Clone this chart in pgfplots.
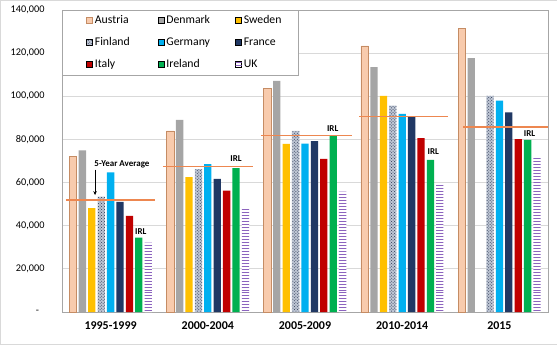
\documentclass[border=0pt]{standalone}
\usepackage{pgfplots}
\pgfplotsset{compat=1.18}
\usepackage{fontspec}
\setmainfont{Carlito}
\usetikzlibrary{patterns,arrows.meta,calc}

\definecolor{austriaF}{RGB}{248,203,173}
\definecolor{austriaD}{RGB}{197,140,100}
\definecolor{denmark}{RGB}{165,165,165}
\definecolor{sweden}{RGB}{255,192,0}
\definecolor{finlandP}{RGB}{40,52,80}
\definecolor{finlandF}{RGB}{190,198,212}
\definecolor{germany}{RGB}{0,176,240}
\definecolor{france}{RGB}{32,56,100}
\definecolor{italy}{RGB}{192,0,0}
\definecolor{ireland}{RGB}{0,176,80}
\definecolor{uk}{RGB}{140,100,190}
\definecolor{avg}{RGB}{237,135,80}
\definecolor{gridc}{RGB}{217,217,217}
\definecolor{axc}{RGB}{166,166,166}

\begin{document}
\begin{tikzpicture}
\begin{axis}[
  name=ax,
  scale only axis, width=486bp, height=302bp,
  xmin=-0.5, xmax=4.5, ymin=0, ymax=140000,
  scaled y ticks=false,
  xtick={0,1,2,3,4},
  xticklabels={1995-1999,2000-2004,2005-2009,2010-2014,2015},
  xticklabel style={font=\bfseries\fontsize{12}{14}\selectfont, yshift=-6bp},
  ytick={0,20000,40000,60000,80000,100000,120000,140000},
  yticklabels={{-\hspace*{5.5bp}},{20,000},{40,000},{60,000},{80,000},{100,000},{120,000},{140,000}},
  yticklabel style={font=\fontsize{10.3}{12}\selectfont, xshift=-14bp},
  major tick length=0pt,
  ymajorgrids, grid style={gridc, line width=0.75bp},
  axis line style={axc, line width=0.75bp},
  legend columns=3,
  legend cell align=left,
  legend style={at={(0,1)}, anchor=north west, draw=axc, line width=0.75bp,
    font=\fontsize{11.8}{13}\selectfont,
    inner xsep=24bp, inner ysep=3.5bp, row sep=7.5bp,
    nodes={inner sep=2pt, text height=8bp, text depth=2.5bp}},
  legend image code/.code={\draw[line width=0.5bp,#1] (0bp,-2.5bp) rectangle (6bp,3.5bp);},
]
\addplot[ybar, bar width=7.3bp, bar shift=-37.6bp, fill=austriaF, draw=austriaD, line width=0.6bp]
  coordinates {(0,72000) (1,84000) (2,103500) (3,123400) (4,131300)};
\addlegendentry{\makebox[61bp][l]{Austria}}
\addplot[ybar, bar width=7.3bp, bar shift=-28.2bp, fill=denmark, draw=none]
  coordinates {(0,74900) (1,89100) (2,107200) (3,113500) (4,117700)};
\addlegendentry{\makebox[67bp][l]{Denmark}}
\addplot[ybar, bar width=7.3bp, bar shift=-18.8bp, fill=sweden, draw=none]
  coordinates {(0,48100) (1,62500) (2,77950) (3,100200)};
\addlegendentry{\makebox[29bp][l]{Sweden}}
\addplot[ybar, bar width=7.3bp, bar shift=-9.4bp, fill=finlandF, draw=none,
  postaction={pattern=crosshatch dots, pattern color=finlandP}]
  coordinates {(0,53500) (1,66200) (2,84000) (3,95700) (4,100200)};
\addlegendentry{\makebox[61bp][l]{Finland}}
\addplot[ybar, bar width=7.3bp, bar shift=0bp, fill=germany, draw=none]
  coordinates {(0,64700) (1,68500) (2,78000) (3,91900) (4,98000)};
\addlegendentry{\makebox[67bp][l]{Germany}}
\addplot[ybar, bar width=7.3bp, bar shift=9.4bp, fill=france, draw=none]
  coordinates {(0,51000) (1,61700) (2,79200) (3,90600) (4,92500)};
\addlegendentry{\makebox[29bp][l]{France}}
\addplot[ybar, bar width=7.3bp, bar shift=18.8bp, fill=italy, draw=none]
  coordinates {(0,44600) (1,56300) (2,71000) (3,80600) (4,80100)};
\addlegendentry{\makebox[61bp][l]{Italy}}
\addplot[ybar, bar width=7.3bp, bar shift=28.2bp, fill=ireland, draw=none]
  coordinates {(0,34500) (1,66700) (2,81700) (3,70500) (4,79800)};
\addlegendentry{\makebox[67bp][l]{Ireland}}
\addplot[ybar, bar width=7.3bp, bar shift=37.6bp, fill=white, draw=none,
  postaction={pattern=horizontal lines, pattern color=uk}]
  coordinates {(0,32200) (1,48600) (2,55800) (3,59300) (4,71600)};
\addlegendentry{\makebox[29bp][l]{UK}}

\addplot[sharp plot, no marks, avg, line width=1.5bp, forget plot] coordinates {(-0.46,52000) (0.46,52000)};
\addplot[sharp plot, no marks, avg, line width=1.5bp, forget plot] coordinates {(0.54,67450) (1.47,67450)};
\addplot[sharp plot, no marks, avg, line width=1.5bp, forget plot] coordinates {(1.55,81800) (2.48,81800)};
\addplot[sharp plot, no marks, avg, line width=1.5bp, forget plot] coordinates {(2.56,90600) (3.47,90600)};
\addplot[sharp plot, no marks, avg, line width=1.5bp, forget plot] coordinates {(3.63,85700) (4.5,85700)};

\node[font=\bfseries\fontsize{9}{10}\selectfont] at (axis cs:0.117,68300) {5-Year Average};
\draw[-{Stealth[length=4bp,width=3.5bp]}, line width=0.6bp] (axis cs:-0.16,66000) -- (axis cs:-0.16,54200);
\node[font=\bfseries\fontsize{9}{10}\selectfont] at (axis cs:0.31,37300) {IRL};
\node[font=\bfseries\fontsize{9}{10}\selectfont] at (axis cs:1.29,71300) {IRL};
\node[font=\bfseries\fontsize{9}{10}\selectfont] at (axis cs:2.285,85200) {IRL};
\node[font=\bfseries\fontsize{9}{10}\selectfont] at (axis cs:3.32,74400) {IRL};
\node[font=\bfseries\fontsize{9}{10}\selectfont] at (axis cs:4.31,82600) {IRL};
\end{axis}
\draw[gridc, line width=0.5bp] ($(ax.south west)+(-61.75bp,-31.75bp)$) rectangle ($(ax.north east)+(8.75bp,9.75bp)$);
\end{tikzpicture}
\end{document}
